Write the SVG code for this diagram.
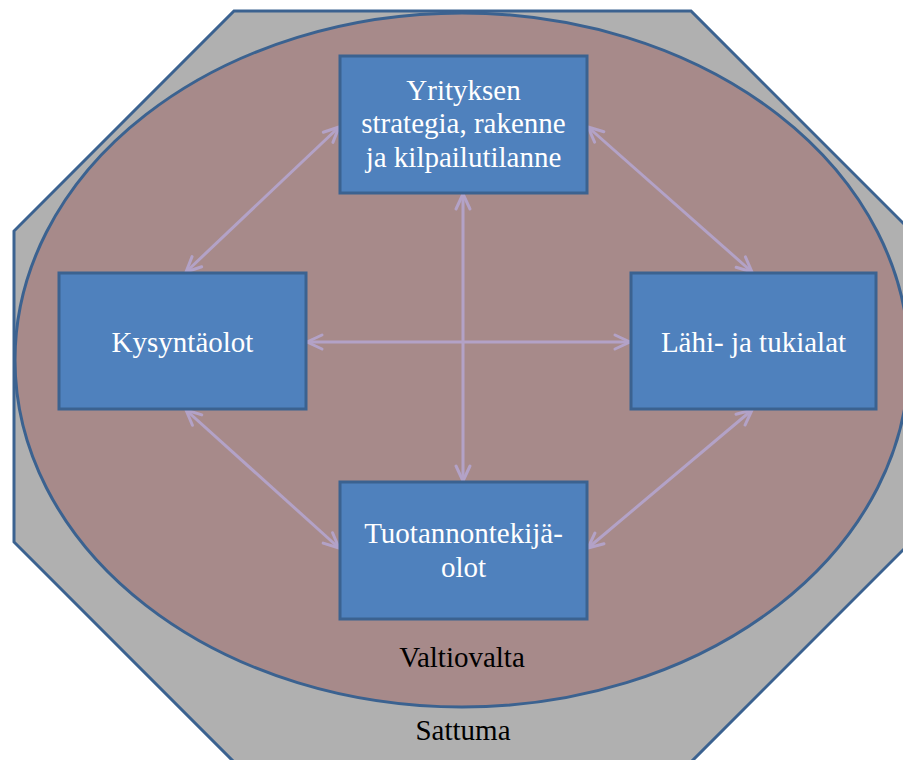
<svg xmlns="http://www.w3.org/2000/svg" width="903" height="760" viewBox="0 0 903 760">
<style>
.box{fill:#4f81bd;stroke:#3b6290;stroke-width:3}
.lbl{font-family:"Liberation Serif","Times New Roman",serif;font-size:29px;fill:#ffffff;text-anchor:middle}
.outer{font-family:"Liberation Serif","Times New Roman",serif;font-size:29px;fill:#000000;text-anchor:middle}
.conn{stroke:#b3a2c7;stroke-width:3;fill:none;marker-start:url(#ah);marker-end:url(#ah)}
</style>
<defs>
<marker id="ah" viewBox="-20 -12 24 24" refX="0" refY="0" markerWidth="24" markerHeight="24" markerUnits="userSpaceOnUse" orient="auto-start-reverse">
<path d="M-15,-7 L0,0 L-15,7" fill="none" stroke="#b3a2c7" stroke-width="3" stroke-linecap="round" stroke-linejoin="round"/>
</marker>
</defs>
<rect width="903" height="760" fill="#ffffff"/>
<g id="sattuma">
<polygon points="234,11 691,11 911,231 911,542 691,762 234,762 14,542 14,231" fill="#b0b0b0" stroke="#3b6290" stroke-width="3"/>
<text class="outer" x="463" y="740">Sattuma</text>
</g>
<g id="valtiovalta">
<ellipse cx="462" cy="360" rx="447" ry="347" fill="#a78a8a" stroke="#3b6290" stroke-width="3"/>
<text class="outer" x="462" y="667">Valtiovalta</text>
</g>
<g id="connectors">
<line class="conn" x1="186" y1="272" x2="339" y2="127"/>
<line class="conn" x1="588" y1="127" x2="752" y2="272"/>
<line class="conn" x1="186" y1="410" x2="339" y2="548"/>
<line class="conn" x1="752" y1="410" x2="588" y2="548"/>
<line class="conn" x1="463" y1="194" x2="463" y2="481"/>
<line class="conn" x1="307" y1="342" x2="630" y2="342"/>
</g>
<g id="yrityksen">
<rect class="box" x="340" y="56" width="247" height="137"/>
<text class="lbl" x="463.5" y="100">Yrityksen</text>
<text class="lbl" x="463.5" y="133">strategia, rakenne</text>
<text class="lbl" x="463.5" y="167">ja kilpailutilanne</text>
</g>
<g id="kysyntaolot">
<rect class="box" x="59" y="273" width="247" height="136"/>
<text class="lbl" x="182.5" y="352">Kysyntäolot</text>
</g>
<g id="lahi">
<rect class="box" x="631" y="273" width="245" height="136"/>
<text class="lbl" x="753.5" y="352">Lähi- ja tukialat</text>
</g>
<g id="tuotannontekija">
<rect class="box" x="340" y="482" width="247" height="137"/>
<text class="lbl" x="463.5" y="543">Tuotannontekijä-</text>
<text class="lbl" x="463.5" y="577">olot</text>
</g>
</svg>
